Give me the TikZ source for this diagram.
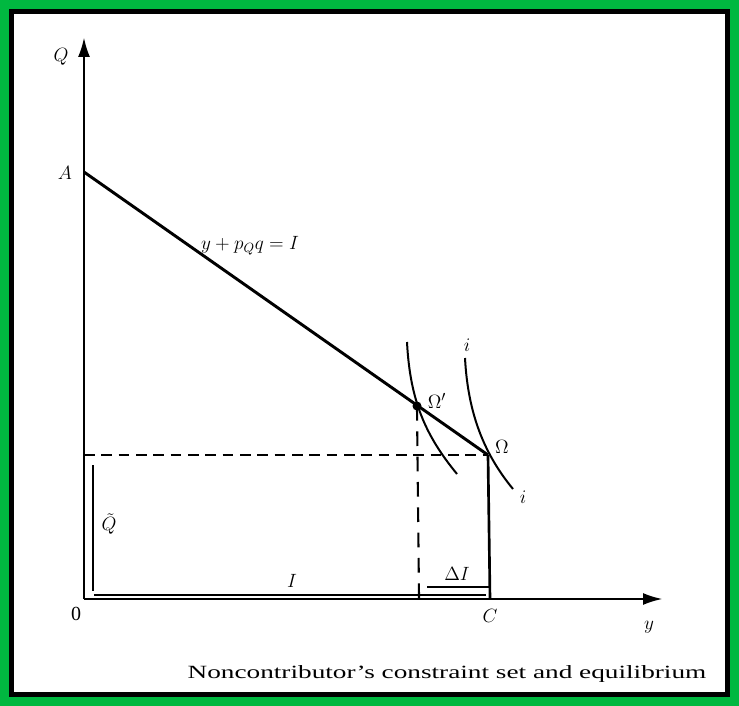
\documentclass[tikz,border=0pt]{standalone}
\usepackage{fontspec}
\setmainfont{Liberation Serif}
\usepackage{tikz}
\usetikzlibrary{arrows.meta, positioning}
\definecolor{framegreen}{RGB}{0, 184, 64}

\begin{document}
\begin{tikzpicture}[x=0.75pt, y=-0.75pt, >={Latex[length=15pt,width=9pt]},
  every node/.style={font=\fontsize{15}{17}\selectfont, inner sep=0pt},
  axisline/.style={line width=2pt},
  budgetline/.style={line width=2.2pt},
  indiff/.style={line width=1.5pt},
  dashline/.style={line width=1.6pt, dash pattern=on 8pt off 5pt},
  bracketline/.style={line width=1.6pt}]

% Frame
\fill[framegreen] (0,0) rectangle (739,706);
\fill[black] (9,9) rectangle (730,697);
\fill[white] (14,14) rectangle (725,692);
\useasboundingbox (0,0) rectangle (739,706);

% Points
\coordinate (O) at (84,599);
\coordinate (Qtip) at (84,37);
\coordinate (ytip) at (663,599);
\coordinate (A) at (84,172);
\coordinate (Om) at (488,455);
\coordinate (Omp) at (417,406);
\coordinate (C) at (490,599);
\coordinate (Hfoot) at (84,455);
\coordinate (Vfoot) at (419,599);

% Axes
\draw[axisline,->] (O) -- (Qtip);
\draw[axisline,->] (O) -- (ytip);

% Budget line and equilibria
\draw[budgetline] (A) -- (Om);
\draw[dashline] (Hfoot) -- (Om);
\draw[dashline, dash pattern=on 11pt off 8pt] (Omp) -- (Vfoot);
\draw[axisline] (Om) -- (C);
\fill (Omp) circle (4.5);

% Indifference curves
\coordinate (i1a) at (407,342);
\coordinate (i1b) at (457,474);
\coordinate (i2a) at (465,358);
\coordinate (i2b) at (513,489);
\draw[indiff] (i1a) .. controls (410,400) and (425,435) .. (i1b);
\draw[indiff] (i2a) .. controls (468,415) and (485,455) .. (i2b);

% Brackets for Q tilde, I and Delta I
\coordinate (Qt1) at (93,465);
\coordinate (Qt2) at (93,591);
\coordinate (I1) at (94,595);
\coordinate (I2) at (486,595);
\coordinate (dI1) at (427,587);
\coordinate (dI2) at (489,587);
\draw[bracketline] (Qt1) -- (Qt2);
\draw[bracketline] (I1) -- (I2);
\draw[bracketline] (dI1) -- (dI2);

% Labels
\node at (61,57) (labQ) {$Q$};
\node at (65,173) (labA) {$A$};
\node[font=\fontsize{14}{16}\selectfont] at (250,246) (labbudget) {$y+p_Qq=I$};
\node at (437,401) (labOmp) {$\Omega'$};
\node at (502,447) (labOm) {$\Omega$};
\node at (467,345) (labi1) {$i$};
\node at (523,497) (labi2) {$i$};
\node at (109,524) (labQt) {$\tilde{Q}$};
\node at (292,581) (labI) {$I$};
\node at (457,574) (labdI) {$\Delta I$};
\node at (76,614) (lab0) {0};
\node at (490,616) (labC) {$C$};
\node at (649,627) (laby) {$y$};
\node at (447,674) (caption) {\fontsize{14}{16}\selectfont\scalebox{1.46}[1]{Noncontributor’s constraint set and equilibrium}};
\end{tikzpicture}
\end{document}
